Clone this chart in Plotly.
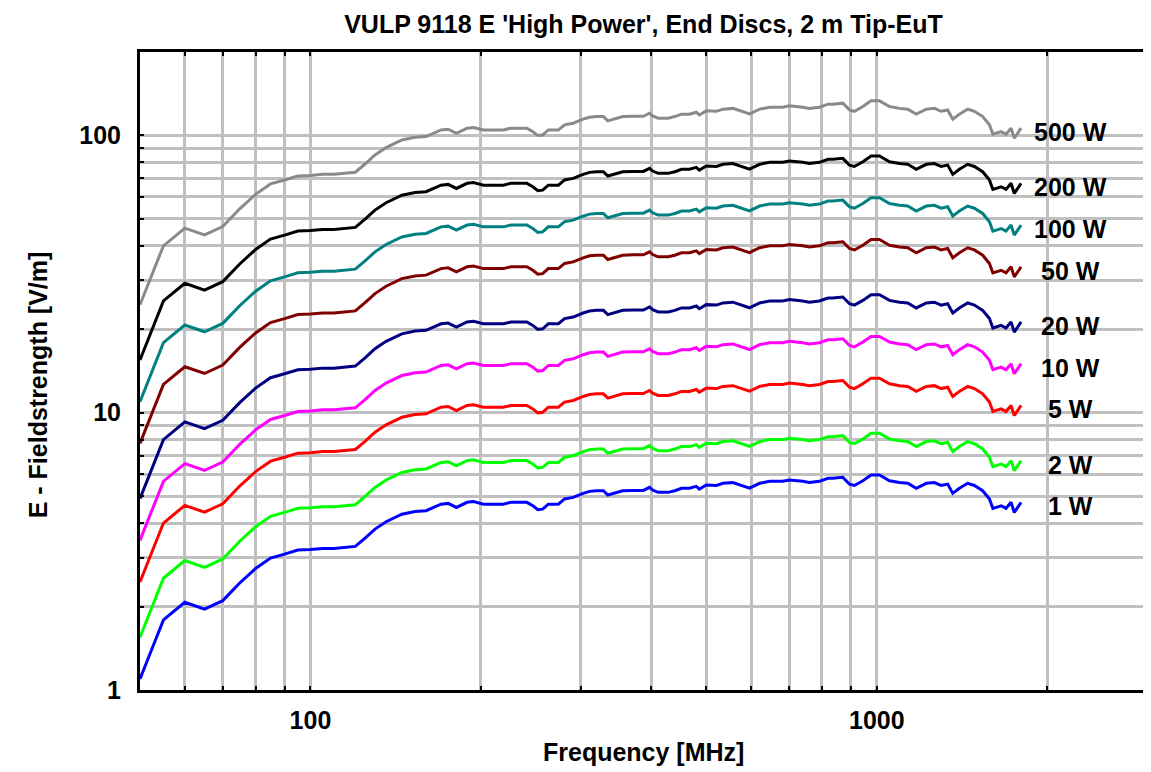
import numpy as np
import plotly.graph_objects as go

# Frequencies [MHz] and field strength [V/m]
freq_mhz = [50, 55, 60, 65, 70, 75, 80, 85, 90, 95, 100, 105, 110, 120, 125, 130, 136, 145,
            153, 160, 170, 175, 181, 189, 194, 202, 219, 226, 241, 247, 252, 257, 263, 274,
            281, 291, 303, 311, 320, 329, 335, 347, 356, 371, 387, 397, 402, 411, 428, 440,
            452, 467, 480, 486, 500, 521, 535, 557, 576, 596, 621, 647, 682, 701, 740, 760,
            792, 820, 836, 871, 895, 913, 945, 977, 1011, 1053, 1097, 1134, 1174, 1223, 1264,
            1299, 1334, 1362, 1399, 1447, 1487, 1538, 1581, 1603, 1658, 1691, 1726, 1749, 1798]
e_200w = [15.5, 25.3, 29.3, 27.7, 29.7, 34.4, 38.8, 42.3, 43.7, 45.2, 45.4, 45.8, 45.8, 46.6,
          50.0, 53.8, 57.2, 60.9, 62.3, 62.7, 66.2, 66.6, 64.4, 67.2, 67.6, 66.2, 66.2, 67.2,
          67.2, 65.3, 63.2, 63.5, 66.2, 66.2, 69.1, 70.0, 72.4, 73.6, 74.0, 74.0, 71.4, 73.0,
          74.0, 74.2, 74.2, 76.1, 74.4, 73.0, 73.0, 74.0, 75.5, 75.5, 76.7, 75.0, 77.6, 77.3,
          78.7, 79.2, 77.6, 75.6, 78.7, 80.0, 80.0, 80.9, 80.0, 79.2, 80.0, 82.0, 82.0, 82.7,
          78.2, 77.3, 80.4, 84.3, 84.3, 80.4, 79.2, 78.7, 75.5, 78.7, 79.2, 77.3, 78.2, 72.4,
          75.5, 78.7, 77.3, 74.0, 69.1, 63.9, 65.3, 63.9, 67.2, 61.8, 67.2]

# Power levels [W], their labels and colours
powers = [500, 200, 100, 50, 20, 10, 5, 2, 1]
labels = ["500 W", "200 W", "100 W", "50 W", "20 W", "10 W", "5 W", "2 W", "1 W"]
colors = ["#8a8a8a", "#000000", "#008080", "#800000", "#000080",
          "#ff00ff", "#ff0000", "#00ff00", "#0000ff"]

# Axis ticks
x_tickvals = [60, 70, 80, 90, 100, 200, 300, 400, 500, 600, 700, 800, 900, 1000, 2000]
x_ticktext = ["", "", "", "", "100", "", "", "", "", "", "", "", "", "1000", ""]
y_tickvals = [1, 2, 3, 4, 5, 6, 7, 8, 9, 10, 20, 30, 40, 50, 60, 70, 80, 90, 100]
y_ticktext = ["1", "", "", "", "", "", "", "", "", "10", "", "", "", "", "", "", "", "", "100"]

FONT = "Liberation Sans, Arial, sans-serif"

fig = go.Figure()
base = np.array(e_200w)
for p, lab, col in zip(powers, labels, colors):
    e = base * np.sqrt(p / 200.0)
    fig.add_trace(go.Scatter(x=freq_mhz, y=e, mode="lines", name=lab,
                             line=dict(color=col, width=3), showlegend=False))
    fig.add_annotation(x=np.log10(2200), y=np.log10(e[-1]), xref="x", yref="y",
                       text=lab, showarrow=False, xanchor="center", yanchor="middle",
                       yshift=-4,
                       font=dict(family=FONT, size=25, color="black", weight="bold"))

axis_common = dict(
    type="log", showgrid=True, gridcolor="#c0c0c0", gridwidth=2.5,
    ticks="inside", ticklen=4, tickwidth=2, tickcolor="black",
    showline=True, linecolor="black", linewidth=3, mirror="ticks", zeroline=False,
    automargin=False,
    tickfont=dict(family=FONT, size=25, color="black", weight="bold"),
)

fig.update_xaxes(**axis_common, range=[np.log10(50), np.log10(3000)],
                 tickmode="array", tickvals=x_tickvals, ticktext=x_ticktext,
                 ticklabelstandoff=6)
fig.update_yaxes(**axis_common, range=[0, np.log10(200)],
                 tickmode="array", tickvals=y_tickvals, ticktext=y_ticktext,
                 ticklabelstandoff=11)

fig.add_annotation(text="Frequency [MHz]", xref="paper", yref="paper",
                   x=0.5, y=-0.097, showarrow=False, xanchor="center", yanchor="middle",
                   font=dict(family=FONT, size=25, color="black", weight="bold"))
fig.add_annotation(text="E - Fieldstrength [V/m]", xref="paper", yref="paper",
                   x=-0.101, y=0.478, showarrow=False, textangle=-90,
                   xanchor="center", yanchor="middle",
                   font=dict(family=FONT, size=25, color="black", weight="bold"))

# page body has an 8 px margin, so the margins are shifted up/left by 8 px
fig.update_layout(
    width=1151, height=772,
    margin=dict(l=132, r=12, t=44, b=90, autoexpand=False),
    paper_bgcolor="white", plot_bgcolor="white",
    title=dict(text="VULP 9118 E 'High Power', End Discs, 2 m Tip-EuT",
               x=0.5, xref="paper", y=1 - 16 / 772, yref="container",
               xanchor="center", yanchor="middle",
               font=dict(family=FONT, size=25, color="black", weight="bold")),
)

fig.write_html("out.html")
